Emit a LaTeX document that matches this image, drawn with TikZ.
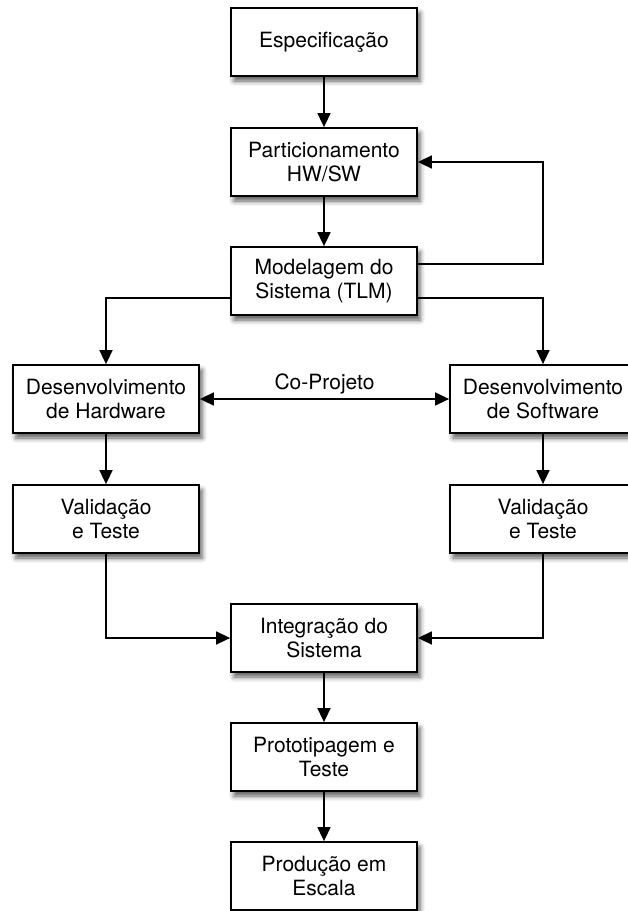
\documentclass[tikz,border=0pt]{standalone}
\usepackage{fontspec}
\setmainfont{TeX Gyre Heros}
\usetikzlibrary{arrows.meta,shadows.blur}
\begin{document}
\begin{tikzpicture}[x=1pt,y=-1pt,
  stage/.style={draw=black, line width=1.8pt, fill=white,
    minimum width=186pt, minimum height=68pt, inner sep=2pt,
    align=center, font=\fontsize{21}{24}\selectfont,
    blur shadow={shadow xshift=3pt, shadow yshift=-5pt,
      shadow blur radius=5pt, shadow opacity=65}},
  flow/.style={line width=1.6pt, -{Triangle[length=14pt,width=13pt]}},
  both/.style={line width=1.6pt, {Triangle[length=14pt,width=13pt]}-{Triangle[length=14pt,width=13pt]}}]
\useasboundingbox (0,0) rectangle (627,911);

% stages of the design flow
\node[stage] (spec)  at (324,42)  {Especificação};
\node[stage] (part)  at (324,162) {Particionamento\\HW/SW};
\node[stage] (mod)   at (324,281) {Modelagem do\\Sistema (TLM)};
\node[stage] (hw)    at (106,399) {Desenvolvimento\\de Hardware};
\node[stage] (sw)    at (543,399) {Desenvolvimento\\de Software};
\node[stage] (vhw)   at (106,519) {Validação\\e Teste};
\node[stage] (vsw)   at (543,519) {Validação\\e Teste};
\node[stage] (int)   at (324,638) {Integração do\\Sistema};
\node[stage] (proto) at (324,757) {Prototipagem e\\Teste};
\node[stage] (prod)  at (324,876) {Produção em\\Escala};

% main flow
\draw[flow] (spec) -- (part);
\draw[flow] (part) -- (mod);
\draw[flow] ([yshift=17pt]mod.east) -| (sw.north |- part.east) -- (part.east);
\draw[flow] ([yshift=-17pt]mod.west) -| (hw.north);
\draw[flow] ([yshift=-17pt]mod.east) -| (sw.north);
\draw[both] (hw.east) -- node[above=1pt, font=\fontsize{21}{24}\selectfont] (cop) {Co-Projeto} (sw.west);
\draw[flow] (hw) -- (vhw);
\draw[flow] (sw) -- (vsw);
\draw[flow] (vhw.south) |- (int.west);
\draw[flow] (vsw.south) |- (int.east);
\draw[flow] (int) -- (proto);
\draw[flow] (proto) -- (prod);
\end{tikzpicture}
\end{document}
